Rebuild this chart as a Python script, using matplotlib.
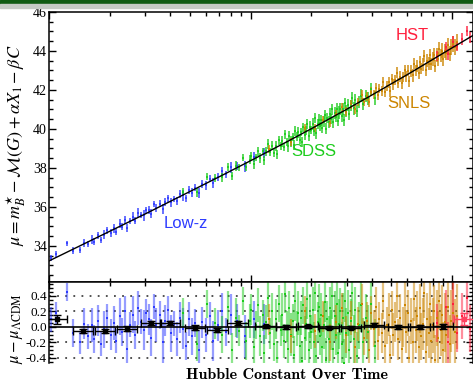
import numpy as np
import matplotlib
matplotlib.use("Agg")
import matplotlib.pyplot as plt
from matplotlib.ticker import MultipleLocator, NullFormatter, LogLocator
from matplotlib.patches import Rectangle

plt.rcParams['font.family'] = 'serif'
plt.rcParams['font.serif'] = ['Liberation Serif', 'DejaVu Serif']
plt.rcParams['mathtext.fontset'] = 'stix'

# Hubble line (LCDM)
hubble_z = [0.008, 0.01, 0.02, 0.03, 0.05, 0.07, 0.1, 0.15, 0.2, 0.3, 0.4, 0.5, 0.6, 0.8, 1.0, 1.3, 1.4]
hubble_mu = [32.74, 33.23, 34.75, 35.64, 36.79, 37.55, 38.37, 39.32, 40.01, 41.01, 41.74, 42.32, 42.79, 43.56, 44.16, 44.86, 45.06]

# (redshift, residual, error) per supernova
lowz = [(0.0102, 0.10, 0.16), (0.0108, 0.18, 0.14), (0.0123, 0.45, 0.12), (0.0131, -0.08, 0.18),
        (0.0142, -0.20, 0.15), (0.0150, 0.04, 0.20), (0.0156, -0.12, 0.16), (0.0163, 0.02, 0.22),
        (0.0168, -0.15, 0.18), (0.0175, 0.08, 0.20), (0.0181, -0.22, 0.16), (0.0188, -0.03, 0.24),
        (0.0194, 0.12, 0.18), (0.0203, -0.10, 0.20), (0.0209, 0.05, 0.22), (0.0216, -0.18, 0.16),
        (0.0224, 0.14, 0.24), (0.0229, -0.06, 0.18), (0.0237, 0.20, 0.20), (0.0245, -0.28, 0.22),
        (0.0252, 0.03, 0.16), (0.0261, 0.16, 0.24), (0.0268, -0.10, 0.18), (0.0277, 0.24, 0.22),
        (0.0286, 0.07, 0.16), (0.0295, -0.04, 0.26), (0.0302, 0.18, 0.18), (0.0314, 0.10, 0.20),
        (0.0322, -0.14, 0.24), (0.0333, 0.26, 0.16), (0.0341, 0.02, 0.22), (0.0355, 0.15, 0.18),
        (0.0366, -0.20, 0.26), (0.0378, 0.08, 0.20), (0.0391, 0.22, 0.18), (0.0404, -0.08, 0.24),
        (0.0417, 0.04, 0.16), (0.0433, -0.16, 0.22), (0.0446, 0.12, 0.20), (0.0461, -0.02, 0.26),
        (0.0479, -0.24, 0.18), (0.0496, 0.10, 0.22), (0.0515, -0.12, 0.24), (0.0532, 0.05, 0.18),
        (0.0556, -0.30, 0.26), (0.0577, 0.06, 0.20), (0.0603, -0.10, 0.22), (0.0626, 0.14, 0.18),
        (0.0654, -0.18, 0.26), (0.0687, 0.02, 0.20), (0.0722, 0.20, 0.24), (0.0758, -0.06, 0.18),
        (0.0803, 0.16, 0.26), (0.0861, 0.08, 0.22), (0.0934, -0.12, 0.28), (0.1040, 0.10, 0.24),
        (0.1160, 0.04, 0.26)]

sdss = [(0.046, 0.18, 0.20), (0.054, -0.22, 0.22), (0.061, 0.30, 0.18), (0.067, 0.05, 0.20),
        (0.072, -0.10, 0.24), (0.077, 0.26, 0.20), (0.081, -0.30, 0.22), (0.085, 0.12, 0.25),
        (0.088, -0.05, 0.20), (0.092, 0.34, 0.18), (0.095, -0.18, 0.24), (0.099, 0.08, 0.22),
        (0.101, 0.22, 0.20), (0.104, -0.26, 0.25), (0.107, 0.02, 0.18), (0.109, 0.28, 0.22),
        (0.112, -0.12, 0.26), (0.115, 0.15, 0.20), (0.117, -0.34, 0.24), (0.120, 0.06, 0.22),
        (0.122, 0.38, 0.25), (0.125, -0.08, 0.20), (0.128, 0.20, 0.24), (0.130, -0.22, 0.22),
        (0.133, 0.10, 0.26), (0.136, -0.40, 0.22), (0.138, 0.30, 0.24), (0.141, -0.04, 0.20),
        (0.143, 0.16, 0.28), (0.146, -0.18, 0.22), (0.149, 0.42, 0.24), (0.151, 0.00, 0.20),
        (0.154, -0.28, 0.26), (0.156, 0.24, 0.22), (0.159, -0.10, 0.28), (0.162, 0.08, 0.22),
        (0.164, -0.36, 0.24), (0.167, 0.34, 0.26), (0.170, -0.02, 0.22), (0.172, 0.18, 0.28),
        (0.175, -0.24, 0.24), (0.178, 0.12, 0.22), (0.180, -0.44, 0.26), (0.183, 0.28, 0.24),
        (0.186, -0.14, 0.28), (0.189, 0.04, 0.22), (0.191, 0.36, 0.26), (0.194, -0.30, 0.24),
        (0.197, 0.14, 0.28), (0.200, -0.06, 0.22), (0.203, 0.22, 0.30), (0.206, -0.20, 0.26),
        (0.209, 0.44, 0.24), (0.212, -0.38, 0.28), (0.215, 0.06, 0.26), (0.218, 0.26, 0.30),
        (0.221, -0.12, 0.24), (0.224, 0.16, 0.28), (0.227, -0.26, 0.26), (0.231, 0.02, 0.30),
        (0.234, 0.32, 0.26), (0.237, -0.42, 0.28), (0.240, 0.10, 0.24), (0.244, -0.16, 0.30),
        (0.247, 0.24, 0.28), (0.250, -0.04, 0.26), (0.254, 0.40, 0.30), (0.257, -0.28, 0.28),
        (0.261, 0.14, 0.32), (0.264, -0.10, 0.26), (0.268, 0.30, 0.30), (0.271, -0.34, 0.28),
        (0.275, 0.04, 0.32), (0.279, 0.20, 0.30), (0.283, -0.22, 0.28), (0.287, 0.12, 0.32),
        (0.291, -0.46, 0.30), (0.295, 0.34, 0.28), (0.299, -0.08, 0.32), (0.304, 0.18, 0.30),
        (0.309, -0.30, 0.32), (0.314, 0.08, 0.28), (0.319, 0.44, 0.30), (0.325, -0.16, 0.32),
        (0.331, 0.22, 0.30), (0.338, -0.38, 0.32), (0.345, 0.02, 0.30), (0.353, 0.28, 0.34),
        (0.362, -0.20, 0.32), (0.372, 0.12, 0.30), (0.384, -0.06, 0.34), (0.398, 0.30, 0.32),
        (0.413, -0.24, 0.34)]

snls = [(0.124, 0.10, 0.20), (0.158, -0.12, 0.22), (0.186, 0.20, 0.20), (0.208, -0.05, 0.22),
        (0.229, 0.14, 0.20), (0.247, -0.20, 0.24), (0.266, 0.06, 0.22), (0.284, 0.24, 0.20),
        (0.298, -0.10, 0.24), (0.316, 0.12, 0.22), (0.331, -0.26, 0.24), (0.342, 0.04, 0.22),
        (0.356, 0.30, 0.26), (0.367, -0.14, 0.22), (0.378, 0.08, 0.24), (0.389, -0.30, 0.26),
        (0.398, 0.18, 0.22), (0.408, -0.02, 0.24), (0.419, 0.26, 0.26), (0.427, -0.18, 0.24),
        (0.436, 0.10, 0.22), (0.447, -0.08, 0.26), (0.455, 0.34, 0.24), (0.466, -0.24, 0.26),
        (0.474, 0.02, 0.24), (0.485, 0.16, 0.28), (0.493, -0.36, 0.26), (0.503, 0.22, 0.24),
        (0.512, -0.10, 0.28), (0.522, 0.06, 0.26), (0.531, 0.40, 0.28), (0.542, -0.16, 0.26),
        (0.551, 0.12, 0.30), (0.563, -0.28, 0.28), (0.572, 0.00, 0.26), (0.584, 0.28, 0.30),
        (0.593, -0.06, 0.28), (0.605, 0.18, 0.30), (0.614, -0.40, 0.28), (0.626, 0.08, 0.30),
        (0.637, -0.20, 0.32), (0.648, 0.36, 0.28), (0.659, -0.04, 0.30), (0.671, 0.14, 0.32),
        (0.682, -0.26, 0.30), (0.694, 0.24, 0.32), (0.705, -0.12, 0.30), (0.716, 0.04, 0.34),
        (0.729, 0.44, 0.32), (0.741, -0.32, 0.30), (0.752, 0.10, 0.34), (0.764, -0.08, 0.32),
        (0.777, 0.30, 0.34), (0.789, -0.18, 0.32), (0.802, 0.02, 0.36), (0.814, 0.20, 0.34),
        (0.826, -0.42, 0.32), (0.838, 0.12, 0.36), (0.851, -0.14, 0.34), (0.865, 0.34, 0.36),
        (0.878, -0.04, 0.34), (0.892, 0.16, 0.38), (0.906, -0.30, 0.36), (0.921, 0.06, 0.38),
        (0.937, -0.10, 0.36), (0.953, 0.26, 0.40), (0.972, -0.22, 0.38), (0.991, 0.08, 0.40),
        (1.012, 0.18, 0.40), (1.038, -0.06, 0.42), (1.061, 0.14, 0.42)]

hst = [(0.84, 0.05, 0.25), (0.93, 0.26, 0.22), (0.95, -0.20, 0.26), (1.01, 0.30, 0.28),
       (1.06, -0.08, 0.24), (1.12, 0.14, 0.30), (1.19, 0.38, 0.26), (1.23, -0.02, 0.30),
       (1.30, 0.10, 0.28)]

# binned residuals
bin_z = [0.011, 0.0148, 0.019, 0.0244, 0.0322, 0.040, 0.0532, 0.0685, 0.0862, 0.1187,
         0.1494, 0.1921, 0.2443, 0.3144, 0.4092, 0.5386, 0.693, 0.902]
bin_r = [0.10, -0.05, -0.05, -0.02, 0.05, 0.05, -0.01, -0.04, 0.05, 0.01,
         0.00, 0.01, -0.01, -0.01, 0.03, 0.00, 0.00, 0.01]
bin_e = [0.06, 0.03, 0.03, 0.03, 0.03, 0.03, 0.03, 0.03, 0.025, 0.02,
         0.02, 0.02, 0.02, 0.02, 0.02, 0.02, 0.025, 0.03]
bin_hst_z = [1.15]
bin_hst_r = [0.10]
bin_hst_e = [0.08]

surveys = [
    (lowz, '#2e3cff', 'Low-z', 0.0476, 35.13),
    (sdss, '#1ccc1c', 'SDSS', 0.2058, 38.82),
    (snls, '#cc8500', 'SNLS', 0.61, 41.33),
    (hst, '#ff1e3c', 'HST', 0.636, 44.77),
]

W, H = 473, 382
fig = plt.figure(figsize=(W / 100, H / 100), dpi=100)
ax1 = fig.add_axes([49 / W, 1 - 282 / H, (473 - 49) / W, (282 - 12) / H])
ax2 = fig.add_axes([49 / W, 1 - 363 / H, (473 - 49) / W, (363 - 282) / H], sharex=ax1)

for data, col, name, tx, ty in surveys:
    z, r, e = np.array(data).T
    mu = np.interp(np.log10(z), np.log10(hubble_z), hubble_mu) + r
    ax1.errorbar(z, mu, yerr=e, fmt='s', ms=2.0, color=col, ecolor=col,
                 elinewidth=1.2, alpha=0.85, mew=0, zorder=2)
    ax2.errorbar(z, r, yerr=e, fmt='none', ecolor=col,
                 elinewidth=1.6, alpha=0.5, zorder=2)
    ax2.plot(z, r, 's', ms=1.8, color=col, mew=0, zorder=3)
    ax1.text(tx, ty, name, color=col, fontsize=12, family='Liberation Sans',
             ha='center', va='center')

ax1.plot(hubble_z, hubble_mu, color='k', lw=1.0, zorder=5)

# residual panel
for g in [0.4, 0.2, -0.2, -0.4]:
    ax2.axhline(g, color='#444444', lw=1.3, ls=(0, (1, 3.5)), zorder=1)
ax2.axhline(0.0, color='k', lw=1.2, zorder=4)

bz = np.array(bin_z)
half = 10 ** 0.05
ax2.errorbar(bz, bin_r, yerr=bin_e, xerr=[bz - bz / half, bz * half - bz], fmt='s', ms=3,
             color='k', ecolor='k', elinewidth=1.0, capsize=3, capthick=1.0, zorder=6)
hz = np.array(bin_hst_z)
ax2.errorbar(hz, bin_hst_r, yerr=bin_hst_e, xerr=[hz - hz / half, hz * half - hz], fmt='s',
             ms=3, color='#ff4060', ecolor='#ff4060', elinewidth=1.0, capsize=3, zorder=6)

ax1.set_xscale('log')
ax1.set_xlim(0.01, 1.27)
ax1.set_ylim(32.15, 46)
ax2.set_ylim(-0.465, 0.58)

ax1.yaxis.set_major_locator(MultipleLocator(2))
ax1.yaxis.set_minor_locator(MultipleLocator(0.5))
ax2.yaxis.set_major_locator(MultipleLocator(0.2))
ax2.yaxis.set_minor_locator(MultipleLocator(0.05))
ax2.yaxis.set_major_formatter(plt.FormatStrFormatter('%.1f'))
ax1.xaxis.set_minor_locator(LogLocator(subs=np.arange(2, 10)))
for ax in (ax1, ax2):
    ax.xaxis.set_major_formatter(NullFormatter())
    ax.xaxis.set_minor_formatter(NullFormatter())
    ax.tick_params(which='both', direction='in', right=True, top=True, width=1.0, pad=1.5)
    ax.tick_params(which='major', length=5)
    ax.tick_params(which='minor', length=3)
    for s in ax.spines.values():
        s.set_linewidth(1.1)
ax1.tick_params(axis='y', labelsize=10)
ax2.tick_params(axis='y', labelsize=9.5)
ax2.tick_params(axis='x', which='both', bottom=False)
ax2.spines['bottom'].set_visible(False)

fig.text(16 / W, 1 - 145 / H, r'$\mu = m_B^{\star} - \mathcal{M}(G) + \alpha X_1 - \beta C$',
         rotation=90, ha='center', va='center', fontsize=13)
fig.text(17 / W, 1 - 329 / H, r'$\mu - \mu_{\Lambda\mathrm{CDM}}$',
         rotation=90, ha='center', va='center', fontsize=12)
fig.text(287 / W, 1 - 375 / H, 'Hubble Constant Over Time', family='cmb10',
         fontsize=11.5, ha='center', va='center')

# slide header band
fig.patches.append(Rectangle((0, 1 - 4.5 / H), 1, 4.5 / H, transform=fig.transFigure,
                             color='#0f5a12', zorder=0))
fig.patches.append(Rectangle((0, 1 - 7.5 / H), 1, 3 / H, transform=fig.transFigure,
                             color='#c4c9c4', zorder=0))

fig.savefig('out.png', dpi=100)
